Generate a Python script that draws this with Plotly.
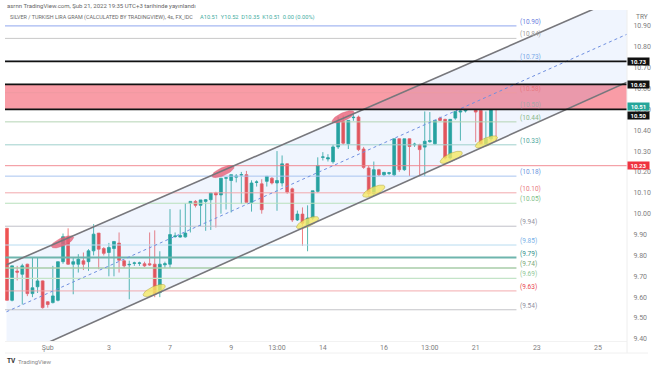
import numpy as np
import plotly.graph_objects as go

opens = [9.93,9.585,9.725,9.71,9.758,9.617,9.65,9.678,9.578,9.574,9.585,9.77,9.886,9.758,9.758,9.774,9.77,9.822,9.907,9.833,
9.814,9.833,9.859,9.774,9.755,9.762,9.762,9.76,9.76,9.758,9.622,9.755,9.758,9.89,9.888,9.889,10.05,10.059,10.04,10.059,
10.067,10.10,10.09,10.17,10.159,10.175,10.185,10.187,10.054,10.15,10.143,10.155,10.17,10.147,10.147,10.239,10.119,9.97,9.998,9.942,
9.979,10.107,10.27,10.262,10.249,10.32,10.442,10.335,10.46,10.463,10.31,10.219,10.097,10.211,10.186,10.193,10.186,10.359,10.211,10.359,
10.33,10.33,10.319,10.345,10.335,10.458,10.452,10.267,10.458,10.487,10.492,10.505,10.511,10.495,10.335,10.359,10.51]
highs = [9.93,9.75,9.75,9.76,9.76,9.79,9.79,9.68,9.58,9.75,9.77,9.905,9.93,9.79,9.806,9.814,9.83,9.95,9.907,9.84,
9.86,9.867,9.91,9.78,9.775,9.77,9.77,9.77,9.91,9.92,9.82,9.77,10.022,9.91,10.02,10.05,10.06,10.065,10.066,10.07,
10.10,10.105,10.17,10.175,10.187,10.19,10.20,10.205,10.16,10.16,10.165,10.179,10.175,10.30,10.279,10.24,10.125,10.015,10.03,10.04,
10.11,10.27,10.295,10.285,10.33,10.465,10.47,10.447,10.48,10.47,10.32,10.23,10.25,10.215,10.2,10.2,10.359,10.36,10.359,10.36,
10.34,10.335,10.49,10.487,10.447,10.465,10.455,10.452,10.49,10.495,10.511,10.515,10.515,10.50,10.49,10.52,10.52]
lows = [9.585,9.58,9.68,9.565,9.605,9.60,9.62,9.545,9.55,9.57,9.58,9.76,9.755,9.614,9.718,9.73,9.726,9.80,9.734,9.80,
9.70,9.70,9.718,9.74,9.59,9.75,9.75,9.745,9.75,9.60,9.60,9.74,9.74,9.885,9.885,9.885,9.91,10.03,9.94,9.918,
9.922,9.934,10.0,10.02,10.006,10.15,10.046,10.054,10.01,10.13,10.0,10.13,10.14,10.014,10.13,10.095,9.96,9.965,9.846,9.82,
9.97,10.10,10.255,10.25,10.24,10.31,10.33,10.31,10.445,10.30,10.215,10.086,10.085,10.18,10.18,10.185,10.18,10.20,10.205,10.18,
10.32,10.18,10.18,10.34,10.33,10.445,10.26,10.26,10.45,10.35,10.485,10.50,10.343,10.33,10.33,10.35,10.35]
closes = [9.585,9.75,9.72,9.75,9.617,9.645,9.678,9.55,9.565,9.606,9.77,9.89,9.758,9.77,9.782,9.758,9.822,9.902,9.83,9.81,
9.838,9.867,9.777,9.75,9.757,9.764,9.764,9.75,9.755,9.614,9.758,9.76,9.90,9.893,9.896,9.907,10.059,10.04,10.066,10.067,
10.099,10.09,10.17,10.172,10.187,10.18,10.187,10.054,10.147,10.152,10.019,10.179,10.147,10.159,10.239,10.103,9.97,9.998,9.954,9.979,
10.11,10.231,10.272,10.268,10.32,10.442,10.338,10.447,10.462,10.307,10.222,10.097,10.211,10.186,10.198,10.196,10.359,10.211,10.359,10.322,
10.333,10.307,10.347,10.35,10.447,10.447,10.267,10.452,10.49,10.492,10.511,10.508,10.487,10.335,10.359,10.511,10.51]
candle_index = list(range(len(opens)))

tick_index = [8, 20, 32, 44, 53, 62, 74, 83, 92, 104, 116]
tick_text = ["Şub", "3", "7", "9", "13:00", "14", "16", "13:00", "21", "23", "25"]
price_ticks = [10.90,10.80,10.70,10.60,10.50,10.40,10.30,10.20,10.10,10.00,9.90,9.80,9.70,9.60,9.50,9.40]

level_values = [10.90,10.84,10.73,10.58,10.50,10.44,10.33,10.18,10.10,10.05,9.94,9.85,9.79,9.74,9.69,9.63,9.54]
level_colors = ["#a6b8f2","#c8c8c8","#8fb8ee","#ee9aa0","#c4c4c4","#b5d4b5","#9fd0cc","#a8c4f0","#f2a8ac","#b8e0bc",
                "#c0c0c8","#b8dcf0","#6fb5ad","#a8cca8","#c4e4c8","#f0a0a4","#c4c4c8"]
label_colors = ["#6a80e0","#a0a0a0","#78a8e8","#e87880","#a8a8a8","#88b888","#50a8a0","#6a94e0","#e87880","#80c088",
                "#9090a0","#78b0e8","#30908a","#78a878","#90c898","#e84850","#9090a0"]
level_widths = [1.4,1,1,0.8,1,1,1,1,1,1.2,1,1,1.8,1.5,1.2,0.9,1.1]
level_end = 100

band_low, band_high = 10.50, 10.62
black_levels = [10.73, 10.62, 10.50]
red_level = 10.23

channel_x = [-0.1, 121.7]
channel_upper = [9.755, 11.05]
channel_middle = [9.53, 10.86]
channel_lower = [9.293, 10.63]

pink_idx = [10.9, 42.4, 66]
pink_val = [9.865, 10.202, 10.464]
yellow_idx = [28.9, 59, 72, 87.2, 94.1]
yellow_val = [9.632, 9.957, 10.108, 10.27, 10.344]

x_range = [-0.39, 121.7]
y_range = [9.39, 10.976]

def ellipse(cx, cy):
    t = np.linspace(0, 2*np.pi, 60)
    a, b = 12, 4
    ang = np.deg2rad(24)
    px = a*np.cos(t)*np.cos(ang) - b*np.sin(t)*np.sin(ang)
    py = a*np.cos(t)*np.sin(ang) + b*np.sin(t)*np.cos(ang)
    return cx + px/5.094, cy + py/208

fig = go.Figure()
xs = x_range

fig.add_trace(go.Scatter(x=[xs[0], xs[1], xs[1], xs[0]], y=[band_low, band_low, band_high, band_high],
    fill="toself", fillcolor="#f99ca6", mode="none", hoverinfo="skip"))
fig.add_trace(go.Scatter(x=channel_x + channel_x[::-1], y=channel_upper + channel_lower[::-1],
    fill="toself", fillcolor="rgba(60,120,235,0.075)", mode="none", hoverinfo="skip"))

for v, c, w in zip(level_values, level_colors, level_widths):
    fig.add_trace(go.Scatter(x=[xs[0], level_end], y=[v, v], mode="lines", line=dict(color=c, width=w), hoverinfo="skip"))
fig.add_trace(go.Scatter(x=xs, y=[red_level, red_level], mode="lines", line=dict(color="#f08088", width=0.9), hoverinfo="skip"))

for cx, cy in zip(pink_idx, pink_val):
    ex, ey = ellipse(cx, cy)
    fig.add_trace(go.Scatter(x=ex, y=ey, fill="toself", fillcolor="rgba(232,96,120,0.8)", mode="lines",
                             line=dict(color="rgba(220,90,110,0.8)", width=0.5), hoverinfo="skip"))

for cx, cy in zip(yellow_idx, yellow_val):
    ex, ey = ellipse(cx, cy)
    fig.add_trace(go.Scatter(x=ex, y=ey, fill="toself", fillcolor="rgba(245,232,100,0.8)", mode="lines",
                             line=dict(color="rgba(170,160,60,0.8)", width=0.6), hoverinfo="skip"))

fig.add_trace(go.Candlestick(x=candle_index, open=opens, high=highs, low=lows, close=closes,
    increasing=dict(line=dict(color="#2aa79c", width=0.8), fillcolor="#26a69a"),
    decreasing=dict(line=dict(color="#ef5f62", width=0.8), fillcolor="#ef5350"),
    whiskerwidth=0))

fig.add_trace(go.Scatter(x=channel_x, y=channel_middle, mode="lines",
    line=dict(color="#6f8fe0", width=1, dash="dot"), hoverinfo="skip"))
for ys in (channel_upper, channel_lower):
    fig.add_trace(go.Scatter(x=channel_x, y=ys, mode="lines", line=dict(color="#77777c", width=1.6), hoverinfo="skip"))
for v in black_levels:
    fig.add_trace(go.Scatter(x=xs, y=[v, v], mode="lines", line=dict(color="#111111", width=1.8), hoverinfo="skip"))

ann = []
for v, c in zip(level_values, label_colors):
    ann.append(dict(x=level_end, y=v, xref="x", yref="y", text=f"({v:.2f})", showarrow=False, xanchor="left",
                    xshift=2, yshift=4, font=dict(size=6.5, color=c)))
tags = [(10.73, "#111111", 0), (10.62, "#111111", 0), (10.50, "#111111", -6), (10.51, "#26a69a", 1), (10.23, "#ef3340", 0)]
for v, c, shift in tags:
    ann.append(dict(x=1, xref="paper", y=v, yref="y", text=f"<b>{v:.2f}</b>", showarrow=False, xanchor="left",
                    xshift=0, yshift=shift, bgcolor=c, width=21, height=7, borderpad=0, align="center",
                    font=dict(size=6, color="#ffffff")))
def txt(x, y, s, size, color, anchor="left"):
    ann.append(dict(x=x, y=y, xref="paper", yref="paper", text=s, showarrow=False, xanchor=anchor, yanchor="middle",
                    font=dict(size=size, color=color)))
W, H, L, R, T, B = 654, 366, 5, 27, 10, 25
pw, ph = W-L-R, H-T-B
def fx(p): return (p-L)/pw
def fy(p): return 1-(p-T)/ph
txt(fx(5), fy(5), "asrnn TradingView.com, Şub 21, 2022 19:35 UTC+3 tarihinde yayınlandı", 6, "#666666")
txt(fx(8), fy(17), "SILVER / TURKISH LIRA GRAM (CALCULATED BY TRADINGVIEW), 4s, FX_IDC", 5.4, "#6a6a6a")
txt(fx(198), fy(17), "A10.51  Y10.52  D10.35  K10.51  0.00 (0.00%)", 5.7, "#45ad9f")
txt(fx(634), fy(17), "TRY", 6.5, "#777777")
txt(fx(5), fy(361), "<b>TV</b>", 6.5, "#333333")
txt(fx(16), fy(361), "TradingView", 6, "#888888")

fig.update_layout(
    width=W, height=H, margin=dict(l=L, r=R, t=T, b=B, autoexpand=False), showlegend=False, boxgap=0.22,
    paper_bgcolor="#ffffff", plot_bgcolor="#ffffff",
    font=dict(family="Roboto, Open Sans, sans-serif", size=7, color="#787b86"),
    annotations=ann,
    shapes=[dict(type="line", xref="paper", yref="paper", x0=1, x1=1, y0=fy(353), y1=1,
                 line=dict(color="#eeeeee", width=1)),
            dict(type="line", xref="paper", yref="paper", x0=0, x1=fx(648), y0=fy(353), y1=fy(353),
                 line=dict(color="#f0f0f0", width=1))],
    xaxis=dict(range=x_range, automargin=False, showgrid=False, zeroline=False, rangeslider=dict(visible=False),
               tickmode="array", tickvals=tick_index, ticktext=tick_text, ticks="",
               showline=True, linecolor="#f2f2f2", linewidth=1,
               tickfont=dict(size=7, color="#808080")),
    yaxis=dict(range=y_range, automargin=False, side="right", showgrid=False, zeroline=False, tickmode="array", tickvals=price_ticks,
               ticktext=[f"{v:.2f}" for v in price_ticks], ticks="outside", ticklen=4, tickcolor="rgba(0,0,0,0)",
               tickfont=dict(size=7, color="#808080")),
)
fig.write_html("out.html", config=dict(displayModeBar=False),
               post_script="document.body.style.margin='0';document.documentElement.style.overflow='hidden';")
